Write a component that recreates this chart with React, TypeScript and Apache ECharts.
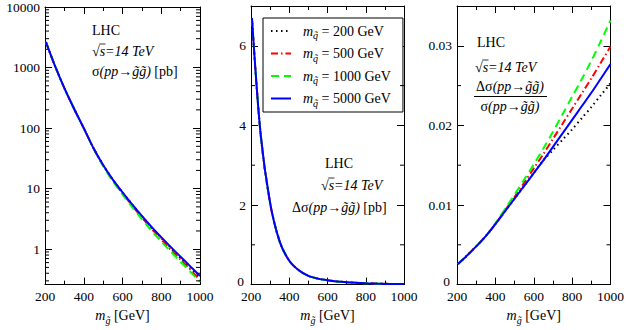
import React, { useEffect, useRef } from 'react';
import * as echarts from 'echarts';

// gluino masses [GeV]
const masses = [205, 250, 300, 350, 400, 450, 500, 550, 600, 650, 700, 750, 800, 850, 900, 950, 1000];
// squark masses (legend)
const squarkMasses = ['200', '500', '1000', '5000'];

// Panel 1: sigma(pp -> gluino gluino) [pb]
const sigma200 = [2630, 1096, 457, 209, 100, 46.8, 24.5, 14.1, 8.7, 5.46, 3.5, 2.29, 1.53, 1.04, 0.71, 0.49, 0.335];
const sigma500 = [2630, 1096, 457, 209, 100, 46.8, 24.2, 13.8, 8.4, 5.25, 3.34, 2.17, 1.45, 0.97, 0.67, 0.46, 0.31];
const sigma1000 = [2630, 1096, 457, 209, 100, 46.0, 23.7, 13.3, 8.0, 4.96, 3.13, 2.02, 1.34, 0.905, 0.62, 0.424, 0.289];
const sigma5000 = [2630, 1096, 457, 209, 100, 46.8, 24.5, 14.1, 8.7, 5.5, 3.55, 2.34, 1.58, 1.08, 0.75, 0.52, 0.36];

// Panel 2: Delta sigma [pb]
const dsig200 = [6.7, 3.8, 2.05, 1.08, 0.6, 0.36, 0.22, 0.15, 0.11, 0.08, 0.06, 0.045, 0.034, 0.026, 0.02, 0.015, 0.012];
const dsig500 = [6.66, 3.78, 2.04, 1.08, 0.6, 0.36, 0.22, 0.15, 0.11, 0.08, 0.06, 0.045, 0.034, 0.026, 0.02, 0.015, 0.012];
const dsig1000 = [6.7, 3.8, 2.05, 1.08, 0.6, 0.36, 0.22, 0.15, 0.11, 0.08, 0.06, 0.045, 0.034, 0.026, 0.02, 0.015, 0.012];
const dsig5000 = [6.7, 3.8, 2.05, 1.08, 0.6, 0.36, 0.22, 0.15, 0.11, 0.08, 0.06, 0.045, 0.034, 0.026, 0.02, 0.015, 0.012];

// Panel 3: Delta sigma / sigma
const ratio200 = [0.0026, 0.0036, 0.0048, 0.0061, 0.0076, 0.0092, 0.0108, 0.0124, 0.014, 0.0156, 0.0169, 0.0182, 0.0195, 0.0209, 0.0223, 0.0238, 0.0253];
const ratio500 = [0.0026, 0.0036, 0.0048, 0.0061, 0.0076, 0.0093, 0.011, 0.0128, 0.0146, 0.0164, 0.0183, 0.0202, 0.0221, 0.024, 0.0259, 0.0279, 0.0299];
const ratio1000 = [0.0026, 0.0036, 0.0048, 0.0061, 0.0077, 0.0095, 0.0113, 0.0132, 0.0151, 0.0171, 0.0192, 0.0214, 0.0236, 0.0258, 0.0281, 0.0306, 0.0332];
const ratio5000 = [0.0026, 0.0036, 0.0048, 0.0061, 0.0076, 0.0092, 0.0108, 0.0124, 0.014, 0.0156, 0.0173, 0.019, 0.0207, 0.0224, 0.0241, 0.0259, 0.0277];

// minor tick values
const logMinorTicks = [0.3, 0.4, 0.5, 0.6, 0.7, 0.8, 0.9, 2, 3, 4, 5, 6, 7, 8, 9, 20, 30, 40, 50, 60, 70, 80, 90,
  200, 300, 400, 500, 600, 700, 800, 900, 2000, 3000, 4000, 5000, 6000, 7000, 8000, 9000];
const p2MinorTicks = [1, 3, 5];
const p3MinorTicks = [0.005, 0.015, 0.025];

const FONT = 'Liberation Serif';
const BLACK = '#000';

const rich = {
  r: { fontFamily: FONT, fontSize: 14, color: BLACK, fill: BLACK },
  i: { fontFamily: FONT, fontSize: 14, fontStyle: 'italic', color: BLACK, fill: BLACK },
  s: { fontFamily: FONT, fontSize: 10, fontStyle: 'italic', color: BLACK, fill: BLACK, padding: [9, 0, 0, 0] },
  lm: { fontFamily: FONT, fontSize: 14, fontStyle: 'italic', color: BLACK, fill: BLACK, padding: [0, 0, 0, 7] },
};

const seriesStyles = [
  { color: '#000000', type: [1.5, 3.5], width: 2 },
  { color: '#ff0000', type: [7, 3, 1.5, 3], width: 2 },
  { color: '#00ff00', type: [8, 5], width: 2 },
  { color: '#0000ff', type: 'solid', width: 2 },
];

const X_MIN = 200;
const X_MAX = 1000;

function tickSeries(idx: number, values: number[], len: number) {
  return {
    type: 'custom',
    xAxisIndex: 2 * idx,
    yAxisIndex: 2 * idx,
    silent: true,
    clip: false,
    z: 5,
    data: values.map((v) => [X_MIN, v]),
    renderItem: (_params: any, api: any) => {
      const v = api.value(1);
      const a = api.coord([X_MIN, v]);
      const b = api.coord([X_MAX, v]);
      return {
        type: 'group',
        children: [
          { type: 'line', shape: { x1: a[0], y1: a[1], x2: a[0] + len, y2: a[1] }, style: { stroke: BLACK, lineWidth: 1 } },
          { type: 'line', shape: { x1: b[0] - len, y1: b[1], x2: b[0], y2: b[1] }, style: { stroke: BLACK, lineWidth: 1 } },
        ],
      };
    },
  };
}

const labelStyle = { fontFamily: FONT, fontSize: 13.5, color: BLACK };
const zeroRich = { z: { fontFamily: FONT, fontSize: 13.5, color: BLACK, padding: [0, 2, 6, 0] } };

function xAxes(gridIndex: number) {
  const common = {
    type: 'value',
    gridIndex,
    min: X_MIN,
    max: X_MAX,
    interval: 200,
    splitLine: { show: false },
    axisLine: { show: true, onZero: false, lineStyle: { color: BLACK, width: 1 } },
    axisTick: { show: true, inside: true, length: 7, lineStyle: { color: BLACK } },
    minorTick: { show: true, splitNumber: 2, length: 4, lineStyle: { color: BLACK } },
  };
  return [
    {
      ...common,
      position: 'bottom',
      axisLabel: { ...labelStyle, margin: 5, formatter: (v: number) => String(v) },
      name: '{i|m}{s|g\u0303}{r| [GeV]}',
      nameLocation: 'middle',
      nameGap: 21,
      nameTextStyle: { fontFamily: FONT, fontSize: 14, color: BLACK, rich },
    },
    { ...common, position: 'top', axisLabel: { show: false } },
  ];
}

function logFormatter(v: number) {
  const l = Math.log10(v);
  const r = Math.round(l);
  return Math.abs(l - r) < 1e-6 ? String(Math.round(Math.pow(10, r))) : '';
}

function yAxes(gridIndex: number, kind: 'log' | 'p2' | 'p3') {
  let range: any;
  let fmt: any;
  if (kind === 'log') {
    range = { type: 'log', min: 0.26, max: 10000, logBase: 10 };
    fmt = logFormatter;
  } else if (kind === 'p2') {
    range = { type: 'value', min: 0, max: 7, interval: 2 };
    fmt = (v: number) => (v === 0 ? '{z|0}' : String(v));
  } else {
    range = { type: 'value', min: 0, max: 0.035, interval: 0.01 };
    fmt = (v: number) => (v === 0 ? '{z|0}' : v.toFixed(2));
  }
  const common = {
    ...range,
    gridIndex,
    splitLine: { show: false },
    axisLine: { show: true, onZero: false, lineStyle: { color: BLACK, width: 1 } },
    axisTick: { show: true, inside: true, length: 7, lineStyle: { color: BLACK } },
  };
  return [
    {
      ...common,
      position: 'left',
      axisLabel: {
        ...labelStyle,
        margin: 5,
        showMaxLabel: kind === 'log',
        formatter: fmt,
        rich: zeroRich,
      },
    },
    { ...common, position: 'right', axisLabel: { show: false } },
  ];
}

const panelData = [
  [sigma200, sigma500, sigma1000, sigma5000],
  [dsig200, dsig500, dsig1000, dsig5000],
  [ratio200, ratio500, ratio1000, ratio5000],
];

function buildOption() {
  const series: any[] = [];
  panelData.forEach((sets, p) => {
    sets.forEach((vals, j) => {
      const st = seriesStyles[j];
      series.push({
        type: 'line',
        name: squarkMasses[j],
        xAxisIndex: 2 * p,
        yAxisIndex: 2 * p,
        data: masses.map((m, k) => [m, vals[k]]),
        showSymbol: false,
        symbol: 'none',
        smooth: 0.3,
        color: st.color,
        lineStyle: { color: st.color, width: st.width, type: st.type, cap: 'butt' },
        z: 2 + j,
      });
    });
  });
  series.push(tickSeries(0, logMinorTicks, 4));
  series.push(tickSeries(1, p2MinorTicks, 4));
  series.push(tickSeries(2, p3MinorTicks, 4));

  const t = (text: string, x: number, y: number, align = 'left') => ({
    type: 'text',
    x,
    y,
    z: 100,
    style: {
      text,
      fontFamily: FONT,
      fontSize: 14,
      fill: BLACK,
      align,
      verticalAlign: 'middle',
      rich,
    },
  });
  // vinculum of the square-root sign over "s"
  const bar = (x: number, y: number) => ({
    type: 'line',
    z: 100,
    shape: { x1: x + 7.2, y1: y - 7, x2: x + 13.5, y2: y - 7 },
    style: { stroke: BLACK, lineWidth: 0.8 },
  });

  const graphic = [
    t('{r|LHC}', 92, 30),
    t('{r|\u221A}{i|s=14 TeV}', 92, 51),
    bar(92, 51),
    t('{r|\u03C3}{i|(pp\u2192g\u0303g\u0303)}{r| [pb]}', 92, 71),
    t('{r|LHC}', 325, 163),
    t('{r|\u221A}{i|s=14 TeV}', 321, 185),
    bar(321, 185),
    t('{r|\u0394\u03C3}{i|(pp\u2192g\u0303g\u0303)}{r| [pb]}', 292, 207),
    t('{r|LHC}', 477, 42),
    t('{r|\u221A}{i|s=14 TeV}', 475, 67),
    bar(475, 67),
    t('{r|\u0394\u03C3}{i|(pp\u2192g\u0303g\u0303)}', 510, 86, 'center'),
    t('{r|\u03C3}{i|(pp\u2192g\u0303g\u0303)}', 510, 106, 'center'),
    {
      type: 'line',
      z: 100,
      shape: { x1: 474, y1: 96.5, x2: 547, y2: 96.5 },
      style: { stroke: BLACK, lineWidth: 1 },
    },
  ];

  return {
    animation: false,
    backgroundColor: '#ffffff',
    grid: [
      { left: 45, top: 6, width: 155, height: 283 },
      { left: 251, top: 6, width: 153, height: 283 },
      { left: 457, top: 6, width: 154, height: 283 },
    ],
    xAxis: [...xAxes(0), ...xAxes(1), ...xAxes(2)],
    yAxis: [...yAxes(0, 'log'), ...yAxes(1, 'p2'), ...yAxes(2, 'p3')],
    legend: {
      data: squarkMasses,
      orient: 'vertical',
      left: 263,
      top: 18,
      itemWidth: 20,
      itemHeight: 12,
      itemGap: 6,
      padding: [6, 12, 4, 7],
      borderColor: BLACK,
      borderWidth: 1,
      borderRadius: 0,
      backgroundColor: '#ffffff',
      selectedMode: false,
      itemStyle: { opacity: 0 },
      formatter: (name: string) => `{lm|m}{s|q\u0303}{r| = ${name} GeV}`,
      textStyle: { fontFamily: FONT, fontSize: 14, color: BLACK, rich },
    },
    graphic,
    series,
  };
}

export default function App() {
  const ref = useRef<HTMLDivElement>(null);
  useEffect(() => {
    if (!ref.current) return;
    const chart = echarts.init(ref.current, undefined, { renderer: 'svg' });
    chart.setOption(buildOption() as any);
    return () => chart.dispose();
  }, []);
  return (
    <div
      ref={ref}
      style={{ position: 'fixed', left: 0, top: 0, width: 627, height: 330, background: '#fff' }}
    />
  );
}
